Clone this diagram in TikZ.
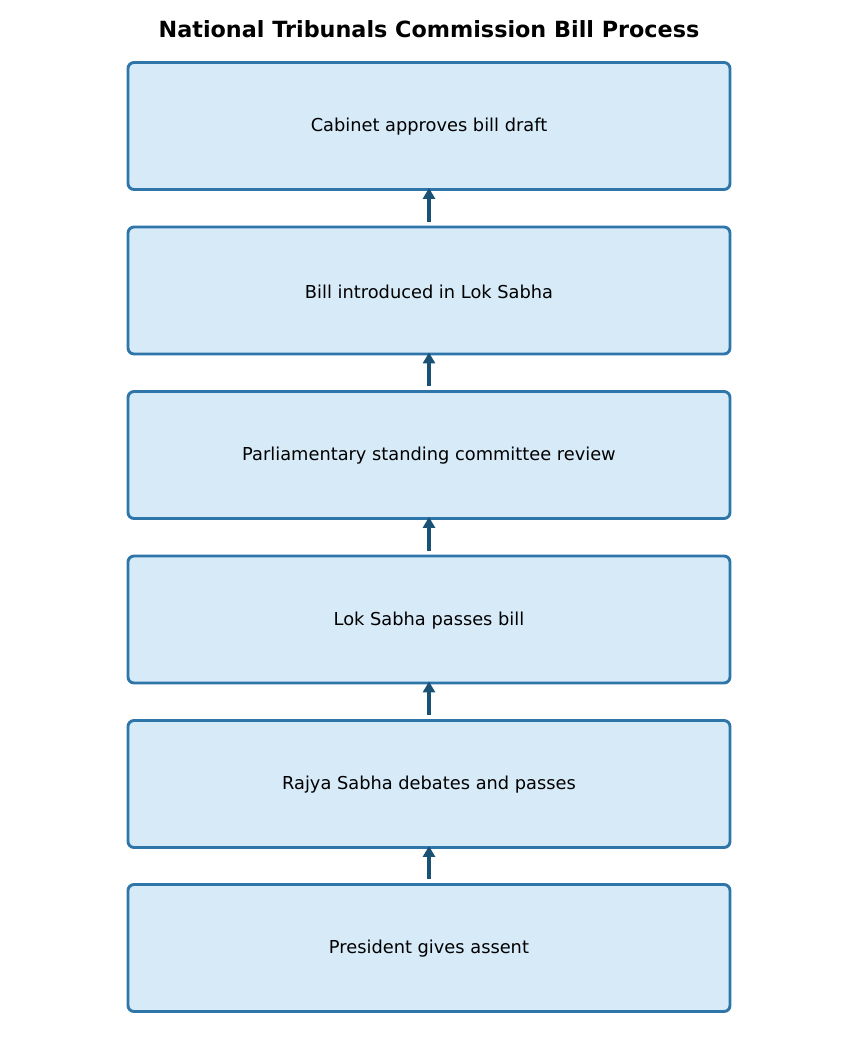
\documentclass[tikz,border=0pt]{standalone}
\usepackage{fontspec}
\setmainfont{DejaVu Sans}
\usetikzlibrary{arrows.meta}
\definecolor{boxfill}{HTML}{D6EAF8}
\definecolor{boxdraw}{HTML}{2E75AA}
\definecolor{arrowc}{HTML}{1A5276}
\begin{document}
\begin{tikzpicture}[x=1pt,y=-1pt,
  stepbox/.style={draw=boxdraw, fill=boxfill, line width=2.9pt, rounded corners=6pt,
    minimum width=602pt, minimum height=127pt, inner sep=0pt,
    font=\fontsize{17.8}{21}\selectfont},
  steptext/.style={font=\fontsize{17.8}{21}\selectfont},
  flow/.style={draw=arrowc, line width=3.3pt, -{Triangle[length=11pt,width=12pt]}}]
\useasboundingbox (0,0) rectangle (858,1053);
\node[font=\bfseries\fontsize{22.3}{26}\selectfont] (title) at (429,29) {National Tribunals Commission Bill Process};
\node[stepbox] (s1) at (429,126) {};
\node[stepbox] (s2) at (429,290.5) {};
\node[stepbox] (s3) at (429,455) {};
\node[stepbox] (s4) at (429,619.5) {};
\node[stepbox] (s5) at (429,784) {};
\node[stepbox] (s6) at (429,948) {};
\node[steptext] (t1) at ([yshift=-1pt]s1.center) {Cabinet approves bill draft};
\node[steptext] (t2) at ([yshift=-1pt]s2.center) {Bill introduced in Lok Sabha};
\node[steptext] (t3) at ([yshift=-1pt]s3.center) {Parliamentary standing committee review};
\node[steptext] (t4) at ([yshift=-1pt]s4.center) {Lok Sabha passes bill};
\node[steptext] (t5) at ([yshift=-1pt]s5.center) {Rajya Sabha debates and passes};
\node[steptext] (t6) at ([yshift=-1pt]s6.center) {President gives assent};
\draw[flow] ([yshift=4pt]s2.north) -- ([yshift=3pt]s1.south);
\draw[flow] ([yshift=4pt]s3.north) -- ([yshift=3pt]s2.south);
\draw[flow] ([yshift=4pt]s4.north) -- ([yshift=3pt]s3.south);
\draw[flow] ([yshift=4pt]s5.north) -- ([yshift=3pt]s4.south);
\draw[flow] ([yshift=4pt]s6.north) -- ([yshift=3pt]s5.south);
\end{tikzpicture}
\end{document}
